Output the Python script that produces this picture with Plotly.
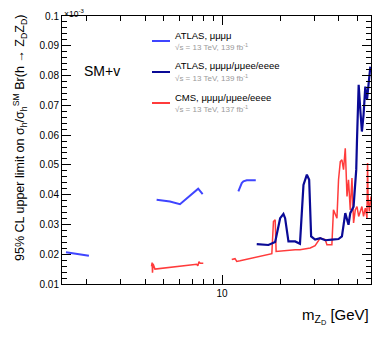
import plotly.graph_objects as go

# ATLAS mu mu mu mu (light blue), three separate mass windows
atlas4mu_x1 = [1.56, 2.05]
atlas4mu_y1 = [0.0207, 0.0195]
atlas4mu_x2 = [4.59, 5.38, 6.06, 7.53, 7.94]
atlas4mu_y2 = [0.0383, 0.0377, 0.0368, 0.0420, 0.0402]
atlas4mu_x3 = [12.15, 12.65, 12.9, 13.43, 14.95]
atlas4mu_y3 = [0.0411, 0.0439, 0.0445, 0.0448, 0.0448]

# ATLAS combined (dark blue)
atlas_x = [15.12, 16.12, 17.38, 18.83, 19.98, 20.78, 21.2, 22.06, 23.9, 25.3,
           26.38, 27.47, 28.23, 28.9, 30.3, 32.2, 34.2, 37.0, 40.05, 41.7,
           43.4, 45.1, 46.05, 47.9, 49.45, 49.9, 50.9, 51.9, 52.9, 53.95,
           55.1, 56.2, 57.3, 58.5]
atlas_y = [0.0234, 0.0232, 0.0231, 0.0241, 0.0321, 0.0335, 0.0321, 0.0243, 0.0243, 0.0235,
           0.0433, 0.0467, 0.0450, 0.0260, 0.0249, 0.0254, 0.0247, 0.0249, 0.0251, 0.0260,
           0.0338, 0.0299, 0.0338, 0.0360, 0.0484, 0.0584, 0.0769, 0.0685, 0.0612, 0.0668,
           0.0763, 0.0718, 0.0774, 0.0830]

# CMS (red), two mass windows
cms_x1 = [4.32, 4.35, 4.37, 4.40, 4.50, 5.4, 6.4, 7.4, 7.5, 7.6, 7.7, 8.0]
cms_y1 = [0.0159, 0.0172, 0.0138, 0.0168, 0.0150, 0.0155, 0.0160, 0.0166, 0.0161, 0.0175, 0.0170, 0.0170]
cms_x2 = [11.23, 11.68, 11.92, 12.4, 18.1, 18.45, 18.83, 19.05, 23.9, 25.3,
          28.6, 30.3, 32.2, 34.2, 34.87, 37.0, 37.7, 39.3, 40.05, 40.9,
          41.7, 42.5, 43.4, 44.3, 45.1, 46.05, 47.0, 47.9, 48.9, 49.9,
          50.9, 52.9, 53.95, 55.1, 56.2, 56.6, 56.9, 57.8, 58.95]
cms_y2 = [0.0182, 0.0185, 0.0176, 0.0178, 0.0202, 0.0310, 0.0316, 0.0209, 0.0215, 0.0215,
          0.0221, 0.0229, 0.0254, 0.0249, 0.0232, 0.0232, 0.0349, 0.0321, 0.0450, 0.0511,
          0.0517, 0.0484, 0.0556, 0.0394, 0.0450, 0.0349, 0.0456, 0.0305, 0.0349, 0.0360,
          0.0327, 0.0360, 0.0327, 0.0355, 0.0321, 0.0506, 0.0394, 0.0344, 0.0394]

y_ticks = [0.01, 0.02, 0.03, 0.04, 0.05, 0.06, 0.07, 0.08, 0.09, 0.1]
y_ticktext = ["0.01", "0.02", "0.03", "0.04", "0.05", "0.06", "0.07", "0.08", "0.09", "0.1"]
x_minor = [2, 3, 4, 5, 6, 7, 8, 9, 20, 30, 40, 50]

LIGHT = "#3f45ff"
DARK = "#0a0a96"
RED = "#ff3b3b"
FONT = "Liberation Sans"

fig = go.Figure()
for xs, ys in [(atlas4mu_x1, atlas4mu_y1), (atlas4mu_x2, atlas4mu_y2), (atlas4mu_x3, atlas4mu_y3)]:
    fig.add_trace(go.Scatter(x=xs, y=ys, mode="lines", line=dict(color=LIGHT, width=2), showlegend=False))
for xs, ys in [(cms_x1, cms_y1), (cms_x2, cms_y2)]:
    fig.add_trace(go.Scatter(x=xs, y=ys, mode="lines", line=dict(color=RED, width=1.5), showlegend=False))
fig.add_trace(go.Scatter(x=atlas_x, y=atlas_y, mode="lines", line=dict(color=DARK, width=2.2), showlegend=False))

axis_common = dict(showline=True, linecolor="black", linewidth=1, mirror="allticks",
                   ticks="inside", tickcolor="black", showgrid=False, zeroline=False,
                   automargin=False, tickfont=dict(family=FONT, size=10, color="black"))

fig.update_xaxes(type="log", range=[0.1725, 1.7705], tickvals=[10], ticktext=["10"], ticklen=9,
                 minor=dict(tickvals=x_minor, ticks="inside", ticklen=5, tickcolor="black"),
                 **axis_common)
fig.update_yaxes(range=[0.01, 0.1], tickvals=y_ticks, ticktext=y_ticktext, ticklen=9,
                 minor=dict(dtick=0.002, ticks="inside", ticklen=5, tickcolor="black"),
                 **axis_common)

# page body has an 8px margin, so pixel positions below are page pixels
H0, H1 = 16, 284
def py2paper(py):
    return (H1 - py) / (H1 - H0)
def px2paper(px):
    return (px - 62) / (371 - 62)

annotations = [
    dict(x=0.0, y=py2paper(13), xref="paper", yref="paper", text="×10<sup>-3</sup>", showarrow=False,
         xanchor="left", yanchor="middle", font=dict(family=FONT, size=8.5, color="black")),
    dict(x=px2paper(82), y=py2paper(71), xref="paper", yref="paper", text="SM+v", showarrow=False,
         xanchor="left", yanchor="middle", font=dict(family=FONT, size=14, color="black")),
    dict(x=1.0, y=py2paper(316), xref="paper", yref="paper", text="m<sub>Z<sub>D</sub></sub> [GeV]", showarrow=False,
         xanchor="right", yanchor="middle", font=dict(family=FONT, size=15, color="black")),
    dict(x=px2paper(20), y=py2paper(138), xref="paper", yref="paper", textangle=-90,
         text="95% CL upper limit on σ<sub>h</sub>/σ<sub>h</sub><sup>SM</sup> Br(h → Z<sub>D</sub>Z<sub>D</sub>)",
         showarrow=False, xanchor="center", yanchor="middle",
         font=dict(family=FONT, size=12.5, color="black")),
]

legend_items = [
    ("ATLAS, μμμμ", "√s = 13 TeV, 139 fb<sup>-1</sup>", LIGHT, 41),
    ("ATLAS, μμμμ/μμee/eeee", "√s = 13 TeV, 139 fb<sup>-1</sup>", DARK, 72),
    ("CMS, μμμμ/μμee/eeee", "√s = 13 TeV, 137 fb<sup>-1</sup>", RED, 103),
]
shapes = []
for name, sub, col, ly in legend_items:
    shapes.append(dict(type="line", xref="paper", yref="paper", x0=px2paper(152), x1=px2paper(170),
                       y0=py2paper(ly), y1=py2paper(ly), line=dict(color=col, width=2)))
    annotations.append(dict(x=px2paper(173), y=py2paper(ly - 6), xref="paper", yref="paper", text=name,
                            showarrow=False, xanchor="left", yanchor="middle",
                            font=dict(family=FONT, size=9.5, color="black")))
    annotations.append(dict(x=px2paper(173), y=py2paper(ly + 5.5), xref="paper", yref="paper", text=sub,
                            showarrow=False, xanchor="left", yanchor="middle",
                            font=dict(family=FONT, size=8, color="#9a9a9a")))

fig.update_layout(width=382, height=331, margin=dict(l=54, r=19, t=8, b=55),
                  plot_bgcolor="white", paper_bgcolor="white",
                  annotations=annotations, shapes=shapes, showlegend=False)

fig.write_html("out.html")
